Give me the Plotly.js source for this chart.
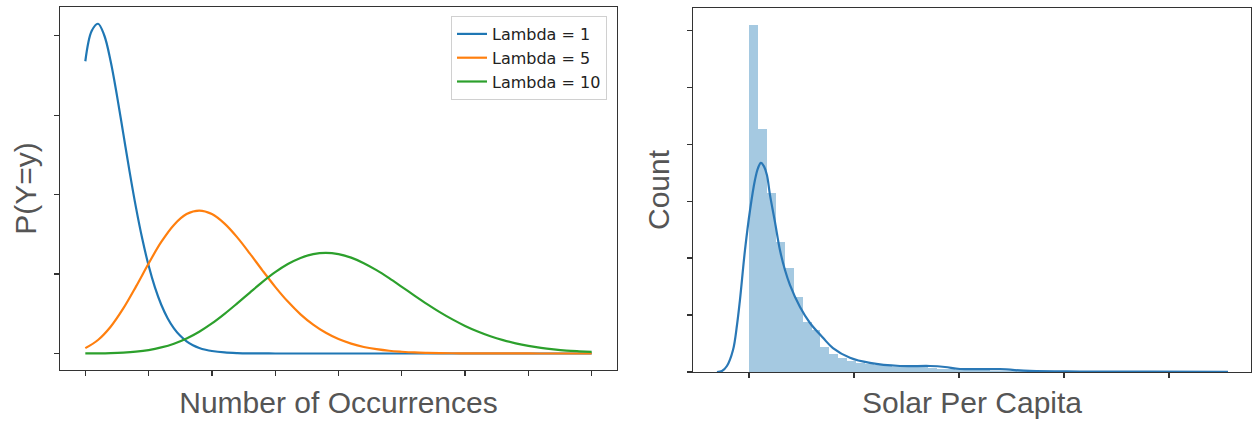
<!DOCTYPE html>
<html>
<head>
<meta charset="utf-8">
<script src="https://cdn.plot.ly/plotly-3.0.1.min.js"></script>
<style>html,body{margin:0;padding:0;background:#fff;}#chart{width:1252px;height:422px;}</style>
</head>
<body>
<div id="chart"></div>
<script>
// ---- Left panel: Poisson-like curves ----
const occurrences = [0,0.5,1,1.5,2,2.5,3,3.5,4,4.5,5,5.5,6,6.5,7,7.5,8,8.5,9,9.5,10,10.5,11,11.5,12,12.5,13,13.5,14,14.5,15,15.5,16,16.5,17,17.5,18,18.5,19,19.5,20];
const occurrencesFine = [0,0.25,0.5,0.75,1,1.25,1.5,1.75,2,2.25,2.5,2.75,3,3.25,3.5,3.75,4,4.25,4.5,4.75,5,5.5,6,6.5,7,7.5,8,8.5,9,9.5,10,10.5,11,11.5,12,12.5,13,13.5,14,14.5,15,15.5,16,16.5,17,17.5,18,18.5,19,19.5,20];
const lambda1 = [0.3679,0.4059,0.4151,0.4003,0.3679,0.3247,0.2767,0.2287,0.1839,0.1443,0.1107,0.0832,0.0613,0.0444,0.0316,0.0222,0.0153,0.0104,0.0070,0.0047,0.0031,0.0013,0.0005,0.0002,0.0001,0,0,0,0,0,0,0,0,0,0,0,0,0,0,0,0,0,0,0,0,0,0,0,0,0,0];
const lambda5 = [0.0067,0.0170,0.0337,0.0567,0.0842,0.1133,0.1404,0.1619,0.1755,0.1799,0.1755,0.1635,0.1462,0.1258,0.1044,0.0839,0.0653,0.0493,0.0363,0.0260,0.0181,0.0124,0.0082,0.0054,0.0034,0.0022,0.0013,0.0008,0.0005,0.0003,0.0002,0.0001,0.00005,0.00003,0.00001,0.00001,0,0,0,0,0];
const lambda10 = [0.00005,0.00016,0.00045,0.0011,0.0023,0.0043,0.0076,0.0123,0.0189,0.0274,0.0378,0.0499,0.0631,0.0767,0.0901,0.1023,0.1126,0.1203,0.1251,0.1267,0.1251,0.1207,0.1137,0.1049,0.0948,0.0839,0.0729,0.0622,0.0521,0.0429,0.0347,0.0277,0.0217,0.0168,0.0128,0.0096,0.0071,0.0052,0.0037,0.0027,0.0019];
const seriesNames = ['Lambda = 1','Lambda = 5','Lambda = 10'];
const leftXTicks = [0,2.5,5,7.5,10,12.5,15,17.5,20];
const leftYTicks = [0,0.1,0.2,0.3,0.4];

// ---- Right panel: histogram + KDE ----
const binStart = 0;
const binWidth = 0.08514;
const binCounts = [60.9,42.6,31.4,22.8,18.2,13.2,8.8,7.4,4.4,3.2,2.5,1.9,1.6,1.4,1.2,1.0,0.9,1.1,1.2,1.0,0.7,0.5,0.5,0.4,0.5,0.4,0.3,0.2,0.2,0.2,0.1,0.2,0.1,0.1,0.1,0,0.1,0.1,0,0.1,0,0,0.1,0,0,0.1,0,0,0,0.1];
const kdeX = [-0.305,-0.257,-0.210,-0.152,-0.114,-0.086,-0.038,0.010,0.057,0.086,0.114,0.143,0.171,0.200,0.248,0.295,0.343,0.390,0.486,0.581,0.705,0.800,0.962,1.152,1.438,1.724,1.867,2.010,2.390,2.676,3.152,3.819,4.562];
const kdeY = [0,0.18,1.05,3.86,8.25,12.63,21.4,28.4,33.7,35.8,36.7,36.1,34.6,31.1,26.3,21.4,17.9,15.3,11.4,8.6,6.0,4.2,2.5,1.6,1.05,1.05,0.88,0.53,0.5,0.18,0.09,0.07,0.04];
const rightXTicks = [0,1,2,3,4];
const rightYTicks = [0,10,20,30,40,50,60];

const binCenters = binCounts.map((_, i) => binStart + binWidth * (i + 0.5));

const colors = ['#1f77b4','#ff7f0e','#2ca02c'];
const leftSeries = [lambda1, lambda5, lambda10];
const leftX = [occurrencesFine, occurrences, occurrences];

const traces = leftSeries.map((ys, i) => ({
  type: 'scatter', mode: 'lines', x: leftX[i], y: ys, name: seriesNames[i],
  line: {color: colors[i], width: 2.2, shape: 'spline', smoothing: 1},
  xaxis: 'x', yaxis: 'y', legendgroup: 'g' + i
}));

traces.push({
  type: 'bar', x: binCenters, y: binCounts, width: binWidth,
  marker: {color: 'rgba(31,119,180,0.4)', line: {width: 0}},
  xaxis: 'x2', yaxis: 'y2', showlegend: false, hoverinfo: 'skip'
});
traces.push({
  type: 'scatter', mode: 'lines', x: kdeX, y: kdeY,
  line: {color: '#2a78b6', width: 2.2, shape: 'spline', smoothing: 1},
  xaxis: 'x2', yaxis: 'y2', showlegend: false
});

const axisCommon = {
  showgrid: false, zeroline: false, showline: true, mirror: true,
  linecolor: '#333', linewidth: 1.3, ticks: 'outside', ticklen: 5,
  tickwidth: 1.2, tickcolor: '#333', showticklabels: false
};
const titleFont = {family: 'Liberation Sans, Arial, sans-serif', size: 30, color: '#555'};

const layout = {
  width: 1252, height: 422,
  margin: {l: 0, r: 0, t: 0, b: 0},
  paper_bgcolor: '#fff', plot_bgcolor: '#fff',
  showlegend: true,
  legend: {
    x: 607/1252, y: (422-16)/422, xanchor: 'right', yanchor: 'top',
    bgcolor: 'rgba(255,255,255,0.8)', bordercolor: '#d0d0d0', borderwidth: 1,
    font: {family: 'DejaVu Sans', size: 16, color: '#222'},
    traceorder: 'grouped', tracegroupgap: 0
  },
  xaxis: Object.assign({}, axisCommon, {
    domain: [60/1252, 617/1252], range: [-1, 21],
    tickmode: 'array', tickvals: leftXTicks,
    title: {text: 'Number of Occurrences', font: titleFont, standoff: 16}
  }),
  yaxis: Object.assign({}, axisCommon, {
    domain: [(422-370)/422, (422-7)/422], range: [-0.0208, 0.4362],
    tickmode: 'array', tickvals: leftYTicks,
    title: {text: 'P(Y=y)', font: titleFont, standoff: 8}
  }),
  xaxis2: Object.assign({}, axisCommon, {
    anchor: 'y2',
    domain: [693/1252, 1251/1252], range: [-0.533, 4.781],
    tickmode: 'array', tickvals: rightXTicks,
    title: {text: 'Solar Per Capita', font: titleFont, standoff: 14}
  }),
  yaxis2: Object.assign({}, axisCommon, {
    anchor: 'x2',
    domain: [(422-372)/422, (422-8)/422], range: [0, 63.9],
    tickmode: 'array', tickvals: rightYTicks,
    title: {text: 'Count', font: titleFont, standoff: 8}
  }),
  bargap: 0
};

Plotly.newPlot('chart', traces, layout, {displayModeBar: false, staticPlot: true});
</script>
</body>
</html>
